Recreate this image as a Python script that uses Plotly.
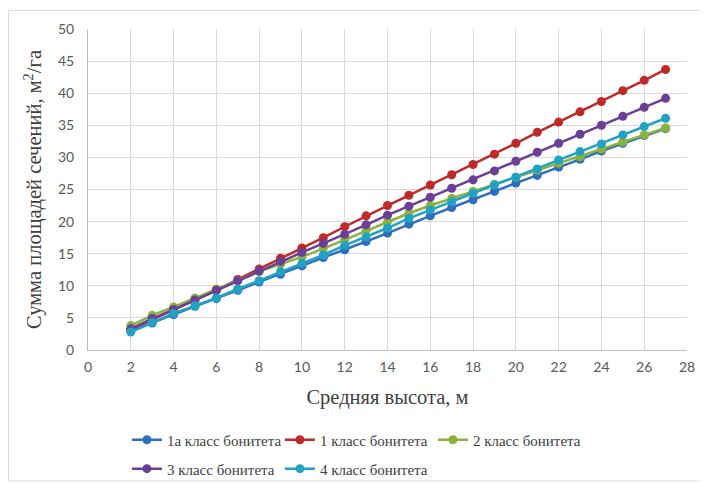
import plotly.graph_objects as go

heights = list(range(2, 28))

series_names = ["1а класс бонитета", "1 класс бонитета", "2 класс бонитета",
                "3 класс бонитета", "4 класс бонитета"]

class_1a = [3.0, 4.2, 5.5, 6.8, 8.0, 9.3, 10.6, 11.8, 13.1, 14.4, 15.6, 16.9, 18.2,
            19.6, 20.9, 22.2, 23.4, 24.7, 26.0, 27.2, 28.5, 29.7, 31.0, 32.2, 33.4, 34.5]
class_1 = [3.2, 4.7, 6.2, 7.8, 9.3, 11.0, 12.6, 14.3, 15.9, 17.5, 19.2, 20.9, 22.5,
           24.1, 25.7, 27.3, 28.9, 30.5, 32.2, 33.9, 35.5, 37.1, 38.7, 40.4, 42.0, 43.7]
class_2 = [3.8, 5.4, 6.7, 8.1, 9.5, 10.8, 12.2, 13.4, 14.5, 15.8, 17.2, 18.6, 20.0,
           21.3, 22.5, 23.6, 24.7, 25.8, 26.9, 28.0, 29.1, 30.1, 31.3, 32.4, 33.5, 34.6]
class_3 = [3.3, 4.9, 6.3, 7.8, 9.3, 10.8, 12.3, 13.8, 15.2, 16.6, 18.0, 19.5, 21.0,
           22.4, 23.8, 25.2, 26.5, 27.9, 29.4, 30.8, 32.2, 33.6, 35.0, 36.4, 37.8, 39.2]
class_4 = [2.8, 4.3, 5.7, 6.9, 8.1, 9.5, 10.8, 12.2, 13.5, 14.8, 16.3, 17.6, 19.0,
           20.5, 21.8, 23.1, 24.4, 25.7, 26.9, 28.2, 29.6, 30.9, 32.1, 33.5, 34.8, 36.1]

all_values = [class_1a, class_1, class_2, class_3, class_4]
colors = ["#2F6EBA", "#BE2A2A", "#8BB33C", "#6B3E97", "#22A2C3"]
legend_ids = ["legend", "legend", "legend", "legend2", "legend2"]

x_ticks = list(range(0, 30, 2))
y_ticks = list(range(0, 55, 5))

fig = go.Figure()
for name, vals, col, lg in zip(series_names, all_values, colors, legend_ids):
    fig.add_trace(go.Scatter(
        x=heights, y=vals, name=name, mode="lines+markers",
        line=dict(color=col, width=2.5),
        marker=dict(color=col, size=9),
        legend=lg,
    ))

tick_font = dict(family="Lato, Liberation Sans, sans-serif", size=14, color="#595959")
title_font = dict(family="Liberation Serif, Times New Roman, serif", size=20.5, color="#404040")
legend_font = dict(family="Liberation Serif, Times New Roman, serif", size=15, color="#404040")

W, H = 699, 477
L, T, PW, PH = 80, 21, 599, 321

legend_common = dict(orientation="h", xanchor="left", yanchor="top",
                     font=legend_font, entrywidth=108, entrywidthmode="pixels",
                     itemwidth=30, bgcolor="rgba(0,0,0,0)")

fig.update_layout(
    width=W, height=H,
    margin=dict(l=L, r=W - L - PW, t=T, b=H - T - PH, autoexpand=False),
    paper_bgcolor="white", plot_bgcolor="white",
    showlegend=True,
    legend=dict(x=0.065, y=-0.229, **legend_common),
    legend2=dict(x=0.065, y=-0.319, **legend_common),
    xaxis=dict(
        range=[0, 28], tickvals=x_ticks, ticktext=[str(t) for t in x_ticks],
        showgrid=True, gridcolor="#D9D9D9", gridwidth=1,
        showline=True, linecolor="#BFBFBF", linewidth=1,
        zeroline=False, tickfont=tick_font, ticks="", ticklabelstandoff=4,
        title=dict(text="Средняя высота, м", font=title_font, standoff=15),
    ),
    yaxis=dict(
        range=[0, 50], tickvals=y_ticks, ticktext=[str(t) for t in y_ticks],
        showgrid=True, gridcolor="#D9D9D9", gridwidth=1,
        showline=True, linecolor="#BFBFBF", linewidth=1,
        zeroline=False, tickfont=tick_font, ticks="", ticklabelstandoff=10,
        title=dict(text="Сумма площадей сечений, м<sup>2</sup>/га", font=title_font, standoff=10),
    ),
)

fig.add_shape(type="rect", xref="paper", yref="paper",
              x0=(0.5 - L) / PW, x1=(696 - L) / PW,
              y0=-(473 - (T + PH)) / PH, y1=1 + (T - 2.5) / PH,
              line=dict(color="#D9D9D9", width=1), fillcolor="rgba(0,0,0,0)", layer="below")

fig.write_html("out.html")
